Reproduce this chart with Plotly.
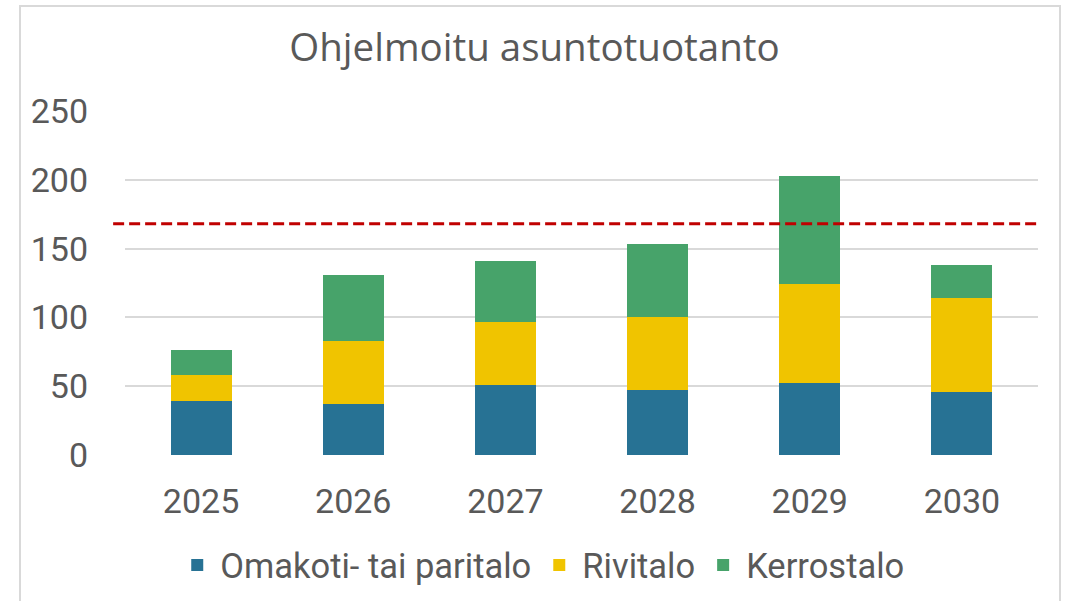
import plotly.graph_objects as go

years = ["2025", "2026", "2027", "2028", "2029", "2030"]
omakoti = [39, 37, 51, 47, 52, 46]
rivitalo = [19, 46, 46, 53, 72, 68]
kerrostalo = [18, 48, 44, 53, 79, 24]
target_line = 168
series_names = ["Omakoti- tai paritalo", "Rivitalo", "Kerrostalo"]
colors = ["#277294", "#F0C400", "#47A36A"]
title_text = "Ohjelmoitu asuntotuotanto"
y_ticks = [0, 50, 100, 150, 200, 250]

fig = go.Figure()
for name, vals, col in zip(series_names, [omakoti, rivitalo, kerrostalo], colors):
    fig.add_trace(go.Bar(x=years, y=vals, name=name, marker=dict(color=col, line=dict(width=0)), width=0.4))

fig.add_shape(type="line", xref="paper", yref="y", x0=-0.013, x1=1.0, y0=target_line, y1=target_line,
              line=dict(color="#C00000", width=3, dash="11px,5px"))
# chart border
fig.add_shape(type="rect", xref="paper", yref="paper", x0=-0.115, x1=1.0241, y0=-0.6, y1=1.305,
              line=dict(color="#D9D9D9", width=2), fillcolor="rgba(0,0,0,0)", layer="below")

font_main = "Roboto, Liberation Sans, Arial, sans-serif"
fig.update_layout(
    barmode="stack",
    width=1069, height=601,
    margin=dict(l=125, r=31, t=111, b=146, autoexpand=False),
    paper_bgcolor="white", plot_bgcolor="white",
    title=dict(text=title_text, x=0.5, xref="container", xanchor="center", y=1 - 48 / 601, yanchor="middle",
               font=dict(family="Open Sans, Roboto, sans-serif", size=38.5, color="#595959")),
    font=dict(family=font_main, color="#595959"),
    legend=dict(orientation="h", x=0.457, xanchor="center", y=-0.32, yanchor="middle",
                font=dict(family="Roboto, sans-serif", size=34.5, color="#595959"),
                itemwidth=36, traceorder="normal"),
    showlegend=True,
    bargap=0.6,
)
fig.update_yaxes(range=[0, 250], tickvals=y_ticks, showgrid=True, gridcolor="#D9D9D9", gridwidth=1.5,
                 zeroline=False, showline=False, ticks="", tickfont=dict(size=34, color="#595959"),
                 ticklabelstandoff=36)
fig.update_xaxes(showgrid=False, showline=False, ticks="", tickfont=dict(size=34, color="#595959"),
                 ticklabelstandoff=23)

fig.write_html("out.html", config={"displayModeBar": False},
               post_script="document.body.style.margin='0';document.body.style.overflow='hidden';")
